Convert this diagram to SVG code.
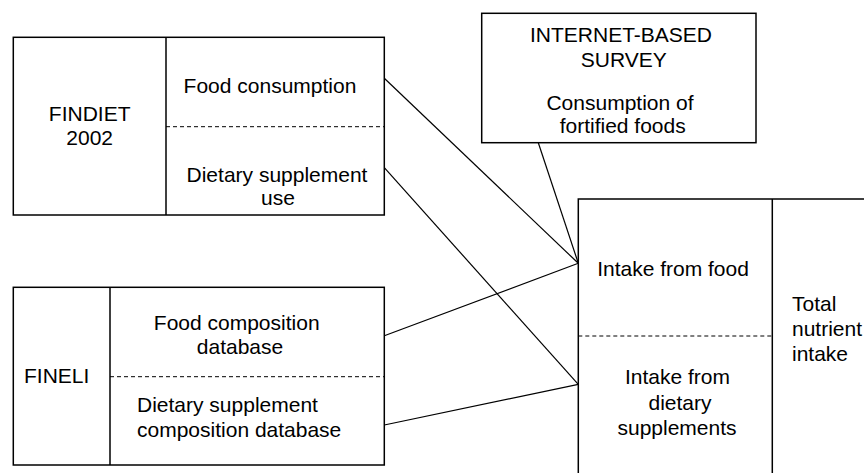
<svg xmlns="http://www.w3.org/2000/svg" width="864" height="473" viewBox="0 0 864 473">
<style>
.box{fill:#fff;stroke:#000;stroke-width:1.5}
.div{stroke:#000;stroke-width:1.5;fill:none}
.dash{stroke:#000;stroke-width:1;stroke-dasharray:4 3;fill:none}
.conn line{stroke:#000;stroke-width:1.2}
text{font-family:"Liberation Sans",Arial,sans-serif;font-size:21px;fill:#000}
.m{text-anchor:middle}
</style>
<rect width="864" height="473" fill="#fff"/>
<g id="connectors" class="conn">
<line x1="384.3" y1="78.3" x2="578.3" y2="263.3"/>
<line x1="384.3" y1="167.7" x2="578.3" y2="384.3"/>
<line x1="384.3" y1="335.7" x2="578.3" y2="263.3"/>
<line x1="384.3" y1="425" x2="578.3" y2="384.3"/>
<line x1="538.3" y1="142.7" x2="578.3" y2="263.3"/>
</g>
<g id="findiet">
<rect class="box" x="13.3" y="37.3" width="371" height="177.7"/>
<line class="div" x1="166" y1="37.3" x2="166" y2="215"/>
<line class="dash" x1="166" y1="126.7" x2="384.3" y2="126.7"/>
<text class="m" x="89.7" y="120.7">FINDIET</text>
<text class="m" x="89.7" y="145.3">2002</text>
<text class="m" x="270" y="93.3">Food consumption</text>
<text class="m" x="277" y="181.7">Dietary supplement</text>
<text class="m" x="278" y="205">use</text>
</g>
<g id="fineli">
<rect class="box" x="13.3" y="287.3" width="371" height="177.7"/>
<line class="div" x1="110" y1="287.3" x2="110" y2="465"/>
<line class="dash" x1="110" y1="376.7" x2="384.3" y2="376.7"/>
<text x="24" y="383">FINELI</text>
<text class="m" x="236.7" y="330">Food composition</text>
<text class="m" x="240" y="354">database</text>
<text x="137" y="411.7">Dietary supplement</text>
<text x="137" y="436.7">composition database</text>
</g>
<g id="internet">
<rect class="box" x="481.7" y="13.3" width="274.3" height="129.4"/>
<text class="m" x="621" y="41.7">INTERNET-BASED</text>
<text class="m" x="623.8" y="66.7">SURVEY</text>
<text class="m" x="620" y="110">Consumption of</text>
<text class="m" x="622.7" y="133.3">fortified foods</text>
</g>
<g id="intake">
<rect class="box" x="578.3" y="199" width="300" height="300"/>
<line class="div" x1="772.3" y1="199" x2="772.3" y2="480"/>
<line class="dash" x1="578.3" y1="336" x2="772.3" y2="336"/>
<text class="m" x="673" y="276">Intake from food</text>
<text class="m" x="677.5" y="384">Intake from</text>
<text class="m" x="680" y="410">dietary</text>
<text class="m" x="677" y="435">supplements</text>
<text x="792" y="310.7">Total</text>
<text x="792" y="336">nutrient</text>
<text x="792" y="361">intake</text>
</g>
</svg>
